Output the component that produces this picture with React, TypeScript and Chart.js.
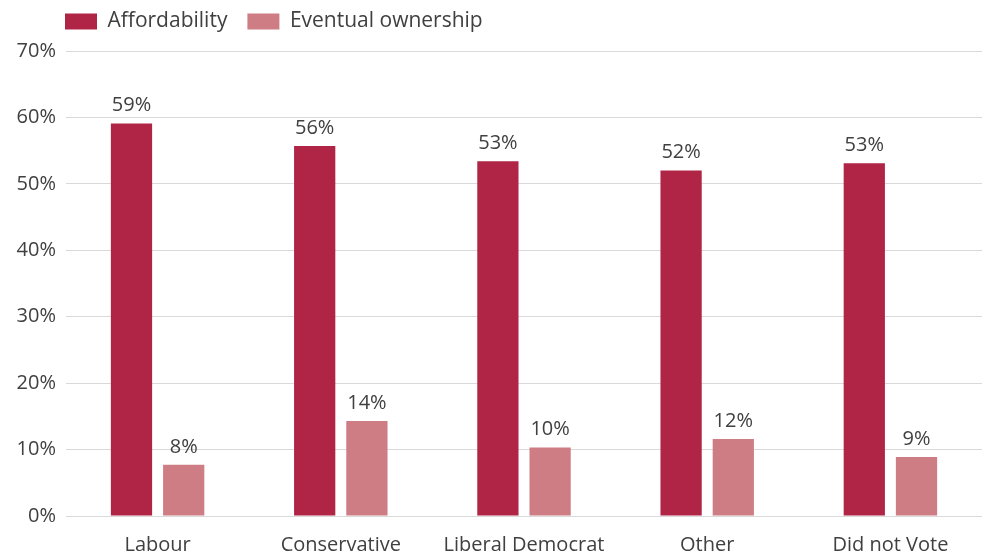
import React, { useEffect, useRef } from "react";
import { Chart, registerables } from "chart.js";

Chart.register(...registerables);

const categories = ["Labour", "Conservative", "Liberal Democrat", "Other", "Did not Vote"];
const affordability = [59.1, 55.7, 53.4, 52.0, 53.1];
const eventualOwnership = [7.7, 14.3, 10.3, 11.6, 8.9];
const seriesNames = ["Affordability", "Eventual ownership"];
const yTicks = [0, 10, 20, 30, 40, 50, 60, 70];

const FONT = "'Open Sans', 'DejaVu Sans', sans-serif";
const TEXT = "#404040";

const valueLabels = {
  id: "valueLabels",
  afterDatasetsDraw(chart: any) {
    const ctx = chart.ctx;
    ctx.save();
    ctx.font = `20px ${FONT}`;
    ctx.fillStyle = TEXT;
    ctx.textAlign = "center";
    ctx.textBaseline = "bottom";
    chart.data.datasets.forEach((ds: any, i: number) => {
      const meta = chart.getDatasetMeta(i);
      meta.data.forEach((bar: any, j: number) => {
        ctx.fillText(Math.round(ds.data[j]) + "%", bar.x, bar.y - 8);
      });
    });
    ctx.restore();
  },
};

const legendShift = {
  id: "legendShift",
  afterLayout(chart: any) {
    if (chart.legend) {
      chart.legend.left = 45;
      chart.legend.top = chart.legend.top - 9;
    }
  },
};

export default function App() {
  const ref = useRef<HTMLCanvasElement>(null);
  useEffect(() => {
    const chart = new Chart(ref.current!, {
      type: "bar",
      data: {
        labels: categories,
        datasets: [
          { label: seriesNames[0], data: affordability, backgroundColor: "#B02546" },
          { label: seriesNames[1], data: eventualOwnership, backgroundColor: "#CD7D83" },
        ],
      },
      plugins: [valueLabels, legendShift],
      options: {
        animation: false,
        responsive: false,
        layout: { padding: { left: 0, right: 0, top: 0, bottom: 0 } },
        datasets: { bar: { categoryPercentage: 0.57, barPercentage: 0.79 } },
        plugins: {
          legend: {
            align: "start",
            labels: {
              boxWidth: 32,
              boxHeight: 16,
              color: TEXT,
              font: { family: FONT, size: 21 },
              padding: 20,
            },
          },
          tooltip: { enabled: false },
        },
        scales: {
          x: {
            afterFit: (s: any) => {
              s.height = 42;
            },
            grid: { display: false, drawTicks: false },
            border: { display: false },
            ticks: { color: TEXT, font: { family: FONT, size: 20 }, padding: 17 },
          },
          y: {
            min: 0,
            max: 70,
            afterBuildTicks: (s: any) => {
              s.ticks = yTicks.map((v) => ({ value: v }));
            },
            afterFit: (s: any) => {
              s.width = 66;
            },
            grid: { color: "#D9D9D9", lineWidth: 1, drawTicks: false },
            border: { display: false },
            ticks: {
              color: TEXT,
              font: { family: FONT, size: 20 },
              padding: 10,
              callback: (v: any) => v + "%",
            },
          },
        },
      },
    } as any);
    return () => chart.destroy();
  }, []);
  return (
    <div style={{ position: "fixed", left: 0, top: 0, width: 982, height: 558, background: "#fff" }}>
      <canvas ref={ref} width={982} height={558} />
    </div>
  );
}
